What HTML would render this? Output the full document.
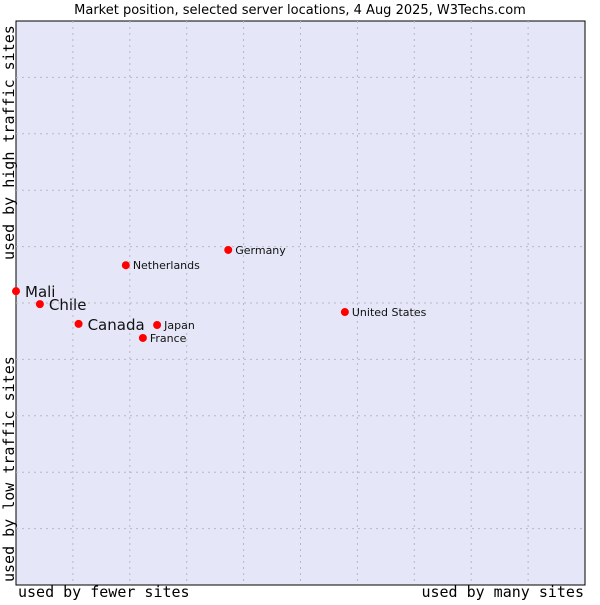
<!DOCTYPE html>
<html><head><meta charset="utf-8"><style>
body{margin:0;background:#fff;width:600px;height:600px;overflow:hidden}
svg text{font-family:"DejaVu Sans","Liberation Sans",sans-serif}
.mono{font-family:"DejaVu Sans Mono","Liberation Mono",monospace}
</style></head><body>
<svg id="c" width="600" height="600">
<text x="300" y="14" text-anchor="middle" font-size="13">Market position, selected server locations, 4 Aug 2025, W3Techs.com</text>
<rect x="16" y="21" width="569" height="564" fill="#e5e7f8" stroke="#000" stroke-width="1"/>
<g id="grid"></g>
<g id="pts"></g>
<text class="mono" x="18" y="597" font-size="15">used by fewer sites</text>
<text class="mono" x="584" y="597" font-size="15" text-anchor="end">used by many sites</text>
<text class="mono" transform="translate(14,260) rotate(-90)" font-size="15">used by high traffic sites</text>
<text class="mono" transform="translate(14,582) rotate(-90)" font-size="15">used by low traffic sites</text>
</svg>
<script>
const names=["Mali","Chile","Canada","Netherlands","Japan","France","Germany","United States"];
const xVals=[0,0.42,1.1,1.93,2.48,2.23,3.73,5.78];
const yVals=[5.21,4.98,4.63,5.67,4.61,4.38,5.94,4.84];
const big=[true,true,true,false,false,false,false,false];
const L=16,R=585,T=21,B=585;
const sx=v=>L+v*(R-L)/10, sy=v=>B-v*(B-T)/10;
const ns="http://www.w3.org/2000/svg";
const g=document.getElementById('grid');
for(let i=1;i<10;i++){
 let a=document.createElementNS(ns,'line');
 
 
 a.setAttribute('x1',sx(i));a.setAttribute('x2',sx(i));a.setAttribute('y1',T);a.setAttribute('y2',B);
 a.setAttribute('stroke','#b8b8c0');a.setAttribute('stroke-dasharray','2,4');g.appendChild(a);
 let b=document.createElementNS(ns,'line');
 
 
 b.setAttribute('y1',sy(i));b.setAttribute('y2',sy(i));b.setAttribute('x1',L);b.setAttribute('x2',R);
 b.setAttribute('stroke','#b8b8c0');b.setAttribute('stroke-dasharray','2,4');g.appendChild(b);
}
const p=document.getElementById('pts');
names.forEach((n,i)=>{
 const x=sx(xVals[i]),y=sy(yVals[i]);
 let c=document.createElementNS(ns,'circle');
 
 
 c.setAttribute('cx',x);c.setAttribute('cy',y);c.setAttribute('r',4);c.setAttribute('fill','#f00');p.appendChild(c);
 let t=document.createElementNS(ns,'text');
 
 
 t.setAttribute('x',x+(big[i]?9:7));t.setAttribute('y',y+(big[i]?6:4));
 t.setAttribute('font-size',big[i]?15:11);t.setAttribute('fill','#111');t.textContent=n;p.appendChild(t);
});
</script>
</body></html>
